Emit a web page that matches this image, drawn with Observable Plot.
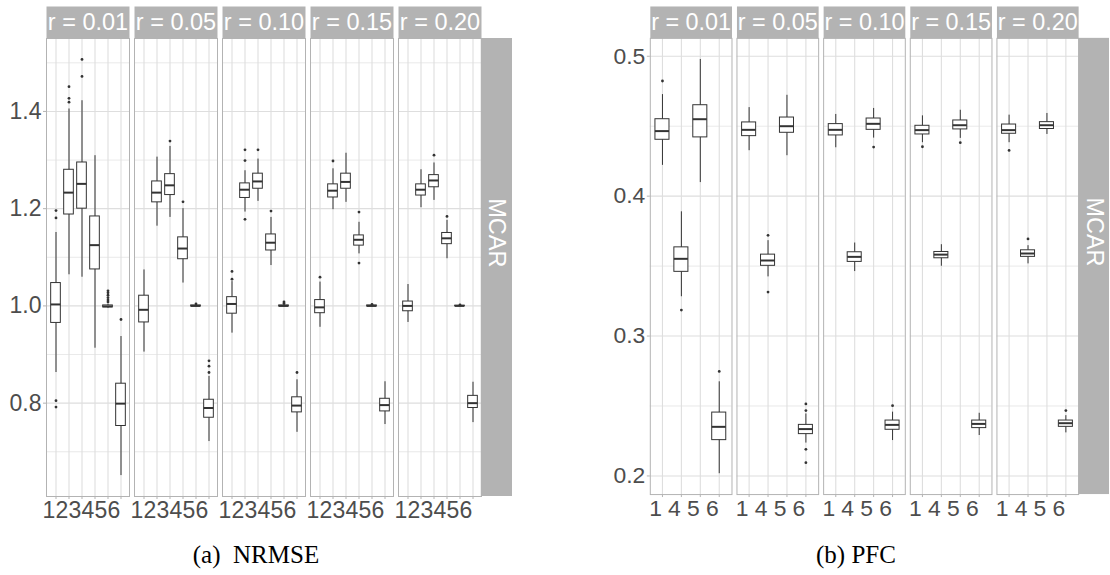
<!DOCTYPE html>
<html><head><meta charset="utf-8">
<script src="https://cdn.jsdelivr.net/npm/d3@7"></script>
<script src="https://cdn.jsdelivr.net/npm/@observablehq/plot@0.6"></script>
<style>
body{margin:0;width:1110px;height:575px;overflow:hidden;background:#fff;position:relative;}
.sub{position:absolute;top:0;}
.cap{position:absolute;top:540px;width:512px;text-align:center;font-family:"Liberation Serif",serif;font-size:25px;line-height:30px;color:#000;white-space:pre;}
</style></head><body>
<div id="a" class="sub" style="left:0"></div>
<div id="b" class="sub" style="left:600px"></div>
<div class="cap" style="left:0">(a)  NRMSE</div>
<div class="cap" style="left:600px">(b) PFC</div>
<script>
const rValues = ["0.01", "0.05", "0.10", "0.15", "0.20"];
const rowLabel = "MCAR";

// (a) NRMSE — methods 1..6, rows = r facets
const methodsA = ["1", "2", "3", "4", "5", "6"];
const nrmseLow = [
  [0.863, 1.064, 1.059, 0.913, 0.995, 0.651],
  [0.905, 1.164, 1.182, 1.047, 0.998, 0.721],
  [0.944, 1.193, 1.215, 1.083, 0.998, 0.740],
  [0.956, 1.198, 1.213, 1.107, 0.998, 0.756],
  [0.966, 1.202, 1.217, 1.097, 0.999, 0.760]];
const nrmseQ1 = [
  [0.965, 1.188, 1.200, 1.075, 0.997, 0.753],
  [0.966, 1.213, 1.228, 1.096, 0.999, 0.770],
  [0.984, 1.222, 1.241, 1.114, 0.999, 0.781],
  [0.985, 1.223, 1.241, 1.124, 0.999, 0.783],
  [0.989, 1.227, 1.244, 1.127, 0.9995, 0.790]];
const nrmseMed = [
  [1.003, 1.233, 1.251, 1.125, 0.999, 0.799],
  [0.992, 1.233, 1.248, 1.118, 1.000, 0.790],
  [1.004, 1.239, 1.256, 1.130, 1.000, 0.795],
  [0.997, 1.237, 1.255, 1.136, 1.000, 0.796],
  [1.000, 1.239, 1.258, 1.139, 1.000, 0.800]];
const nrmseQ3 = [
  [1.047, 1.280, 1.295, 1.184, 1.001, 0.840],
  [1.021, 1.256, 1.271, 1.141, 1.001, 0.807],
  [1.018, 1.252, 1.272, 1.147, 1.001, 0.812],
  [1.012, 1.250, 1.272, 1.145, 1.001, 0.809],
  [1.009, 1.250, 1.269, 1.150, 1.0005, 0.815]];
const nrmseHigh = [
  [1.151, 1.405, 1.422, 1.309, 1.003, 0.937],
  [1.074, 1.306, 1.328, 1.200, 1.002, 0.855],
  [1.050, 1.278, 1.302, 1.182, 1.002, 0.848],
  [1.049, 1.282, 1.314, 1.172, 1.002, 0.844],
  [1.044, 1.280, 1.294, 1.176, 1.001, 0.843]];
const nrmseOut = [
  [[1.196, 1.181, 0.805, 0.792], [1.451, 1.427, 1.419], [1.507, 1.472], [], [1.008, 1.012, 1.017, 1.022, 1.027, 1.031], [0.972]],
  [[], [], [1.339], [1.214], [1.004], [0.863, 0.876, 0.887]],
  [[1.055, 1.071], [1.299, 1.321, 1.178], [1.321], [1.195], [1.005, 1.008], [0.863]],
  [[1.059], [1.298], [], [1.193, 1.088], [1.003], []],
  [[], [], [1.310], [1.184], [1.002], []]];
const nrmseTicks = [0.8, 1.0, 1.2, 1.4];
const nrmseMinor = [0.7, 0.9, 1.1, 1.3, 1.5];

// (b) PFC — methods 1,4,5,6
const methodsB = ["1", "4", "5", "6"];
const pfcLow = [
  [0.4220, 0.3281, 0.4097, 0.2016],
  [0.4325, 0.3423, 0.4289, 0.2235],
  [0.4346, 0.3461, 0.4415, 0.2253],
  [0.4382, 0.3499, 0.4413, 0.2289],
  [0.4382, 0.3516, 0.4441, 0.2308]];
const pfcQ1 = [
  [0.4403, 0.3459, 0.4420, 0.2256],
  [0.4429, 0.3502, 0.4453, 0.2299],
  [0.4434, 0.3530, 0.4474, 0.2330],
  [0.4441, 0.3556, 0.4477, 0.2342],
  [0.4446, 0.3566, 0.4480, 0.2351]];
const pfcMed = [
  [0.4465, 0.3552, 0.4550, 0.2351],
  [0.4474, 0.3540, 0.4500, 0.2335],
  [0.4474, 0.3566, 0.4517, 0.2365],
  [0.4472, 0.3582, 0.4507, 0.2372],
  [0.4472, 0.3590, 0.4507, 0.2377]];
const pfcQ3 = [
  [0.4550, 0.3634, 0.4650, 0.2453],
  [0.4527, 0.3582, 0.4562, 0.2365],
  [0.4515, 0.3599, 0.4555, 0.2396],
  [0.4503, 0.3601, 0.4541, 0.2396],
  [0.4512, 0.3613, 0.4529, 0.2396]];
const pfcHigh = [
  [0.4726, 0.3888, 0.4977, 0.2673],
  [0.4633, 0.3682, 0.4721, 0.2443],
  [0.4584, 0.3665, 0.4627, 0.2456],
  [0.4574, 0.3653, 0.4614, 0.2448],
  [0.4579, 0.3646, 0.4591, 0.2431]];
const pfcOut = [
  [[0.4823], [0.3186], [], [0.2747]],
  [[], [0.3720, 0.3314], [], [0.2515, 0.2467, 0.2190, 0.2095]],
  [[], [], [0.4351], [0.2502]],
  [[0.4353], [], [0.4382], []],
  [[0.4327], [0.3694], [], [0.2467]]];
const pfcTicks = [0.2, 0.3, 0.4, 0.5];
const pfcMinor = [0.25, 0.35, 0.45];

function panel({methods, low, q1, med, q3, high, out, yDomain, yTicks, yMinor, width, marginLeft}) {
  const boxes = [], pts = [];
  rValues.forEach((r, i) => methods.forEach((m, j) => {
    boxes.push({r, m, low: low[i][j], q1: q1[i][j], med: med[i][j], q3: q3[i][j], high: high[i][j]});
    out[i][j].forEach(v => pts.push({r, m, v}));
  }));
  const height = 530, marginTop = 38, marginBottom = 34, marginRight = 31, pad = 0.06;
  const panelH = height - marginTop - marginBottom;
  const bw = (width - marginLeft - marginRight) / (rValues.length - pad) * (1 - pad);
  const step = bw / (methods.length + 0.2);
  const inset = step * 0.125;
  const grey = "#b3b3b3", ink = "#333333";
  return Plot.plot({
    width, height, marginLeft, marginRight, marginTop, marginBottom,
    style: {fontFamily: "'Liberation Sans', Arial, sans-serif", background: "white", overflow: "visible"},
    fx: {domain: rValues, paddingInner: pad, paddingOuter: 0, axis: null, label: null},
    x: {domain: methods, paddingInner: 0, paddingOuter: 0.1, label: null},
    y: {domain: yDomain, label: null},
    marks: [
      Plot.ruleY(yMinor, {stroke: "#e3e3e3", strokeWidth: 0.8}),
      Plot.ruleY(yTicks, {stroke: "#dedede", strokeWidth: 1.1}),
      Plot.ruleX(methods, {x: d => d, stroke: "#dedede", strokeWidth: 1.1}),
      Plot.ruleX(boxes, {fx: "r", x: "m", y1: "low", y2: "high", stroke: ink, strokeWidth: 1}),
      Plot.barY(boxes, {fx: "r", x: "m", y1: "q1", y2: "q3", fill: "white", stroke: ink, strokeWidth: 1, insetLeft: inset, insetRight: inset}),
      Plot.tickY(boxes, {fx: "r", x: "m", y: "med", stroke: ink, strokeWidth: 2, insetLeft: inset, insetRight: inset}),
      Plot.dot(pts, {fx: "r", x: "m", y: "v", r: 1.4, fill: ink, stroke: null}),
      Plot.frame({stroke: grey, strokeWidth: 1}),
      Plot.frame({fill: grey, stroke: null, insetTop: -32, insetBottom: panelH}),
      Plot.text(rValues, {fx: d => d, text: d => `r = ${d}`, frameAnchor: "top", lineAnchor: "middle", dy: -16, fill: "white", fontSize: 23.5}),
      Plot.rect([rValues[rValues.length - 1]], {fx: d => d, fill: grey, insetLeft: bw, insetRight: -marginRight}),
      Plot.text([rValues[rValues.length - 1]], {fx: d => d, text: () => rowLabel, frameAnchor: "right", lineAnchor: "middle", dx: marginRight / 2, rotate: 90, fill: "white", fontSize: 23.5}),
      Plot.axisY({ticks: yTicks, tickFormat: d3.format(".1f"), tickSize: 3, tickPadding: 2, fontSize: 23, stroke: grey, fill: "#4d4d4d", label: null}),
      Plot.axisX({tickSize: 3, tickPadding: 2, fontSize: 23, stroke: grey, fill: "#4d4d4d", label: null, text: null}),
      Plot.axisX({tickSize: 0, tickPadding: 5, fontSize: 23, dx: -7, fill: "#4d4d4d", label: null})
    ]
  });
}

document.getElementById("a").append(panel({
  methods: methodsA, low: nrmseLow, q1: nrmseQ1, med: nrmseMed, q3: nrmseQ3, high: nrmseHigh, out: nrmseOut,
  yDomain: [0.608, 1.550], yTicks: nrmseTicks, yMinor: nrmseMinor, width: 512, marginLeft: 46
}));
document.getElementById("b").append(panel({
  methods: methodsB, low: pfcLow, q1: pfcQ1, med: pfcMed, q3: pfcQ3, high: pfcHigh, out: pfcOut,
  yDomain: [0.1867, 0.5128], yTicks: pfcTicks, yMinor: pfcMinor, width: 512, marginLeft: 48.3
}));
</script>
</body></html>
